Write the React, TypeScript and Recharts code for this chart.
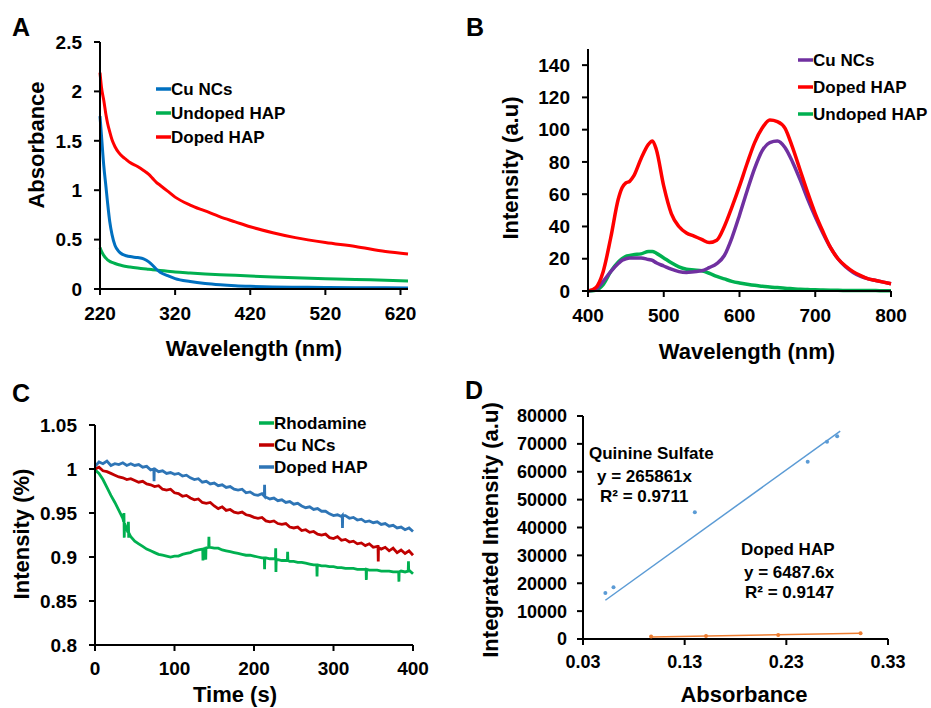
import React from 'react';
import { LineChart, Line, XAxis, YAxis, ComposedChart, Scatter } from 'recharts';

const FONT = "'Liberation Sans', Arial, Helvetica, sans-serif";

// ---------- Panel A: Absorbance ----------
const aWavelength = [220, 222, 225, 228, 230, 233, 236, 240, 245, 250, 255, 260, 270, 278, 285, 290, 295, 300, 310, 320, 340, 360, 380, 400, 420, 450, 480, 520, 560, 600, 630];
const aCuNCs = [1.75, 1.55, 1.25, 1.03, 0.88, 0.68, 0.55, 0.44, 0.38, 0.35, 0.337, 0.328, 0.318, 0.305, 0.275, 0.24, 0.2, 0.17, 0.135, 0.105, 0.075, 0.055, 0.042, 0.033, 0.027, 0.021, 0.018, 0.015, 0.013, 0.012, 0.011];
const aUndopedHAP = [0.42, 0.38, 0.34, 0.31, 0.295, 0.28, 0.27, 0.258, 0.245, 0.236, 0.228, 0.222, 0.212, 0.205, 0.2, 0.196, 0.192, 0.188, 0.18, 0.172, 0.162, 0.153, 0.145, 0.138, 0.131, 0.122, 0.114, 0.105, 0.097, 0.088, 0.082];
const aDopedHAP = [2.19, 2.04, 1.91, 1.76, 1.68, 1.59, 1.51, 1.44, 1.38, 1.34, 1.31, 1.28, 1.24, 1.2, 1.16, 1.12, 1.08, 1.05, 0.99, 0.93, 0.85, 0.79, 0.73, 0.68, 0.63, 0.57, 0.52, 0.47, 0.43, 0.38, 0.355];
const aXTicks = [220, 320, 420, 520, 620];
const aYTicks = [0, 0.5, 1, 1.5, 2, 2.5];

// ---------- Panel B: Emission ----------
const bWavelength = [400, 410, 420, 430, 440, 445, 450, 455, 460, 470, 480, 485, 490, 500, 510, 520, 530, 540, 550, 560, 570, 580, 590, 600, 610, 620, 630, 640, 650, 660, 670, 680, 690, 700, 710, 720, 730, 740, 750, 760, 770, 780, 790, 800];
const bCuNCs = [0, 1, 6, 12, 17, 19, 20, 20.5, 20.5, 20.5, 19.5, 19, 17.5, 15.5, 13.5, 12, 11.5, 12, 12.5, 14.5, 17, 22, 33, 47, 62, 76, 87, 92, 93, 89, 80, 69, 57, 46, 36, 27, 20, 15, 11.5, 9, 7.5, 6.5, 5.5, 4.5];
const bDopedHAP = [0, 2, 12, 33, 57, 64, 67, 68, 71, 82, 91, 93, 88, 65, 48, 40, 36, 34, 32, 30, 31.5, 40, 52, 65, 79, 92, 101, 106, 105, 101, 89, 75, 61, 48, 37, 27, 20, 15.5, 12, 9.5, 7.5, 6.5, 5.5, 4.5];
const bUndopedHAP = [0, 0.5, 4, 12, 18, 20, 21.5, 22, 22.5, 23, 24.5, 24.5, 23.5, 20.5, 17.5, 15, 13.5, 13, 12.5, 11, 9, 7.5, 6, 5, 4.2, 3.5, 3, 2.5, 2.1, 1.7, 1.4, 1.1, 0.9, 0.7, 0.6, 0.5, 0.4, 0.35, 0.3, 0.3, 0.25, 0.25, 0.2, 0.2];
const bXTicks = [400, 500, 600, 700, 800];
const bYTicks = [0, 20, 40, 60, 80, 100, 120, 140];

// ---------- Panel C: Photostability ----------
const cTime = [
  0, 5, 10, 15, 20, 25, 30, 35, 40, 45,
  50, 55, 60, 65, 70, 75, 80, 85, 90, 95,
  100, 105, 110, 115, 120, 125, 130, 135, 140, 145,
  150, 155, 160, 165, 170, 175, 180, 185, 190, 195,
  200, 205, 210, 215, 220, 225, 230, 235, 240, 245,
  250, 255, 260, 265, 270, 275, 280, 285, 290, 295,
  300, 305, 310, 315, 320, 325, 330, 335, 340, 345,
  350, 355, 360, 365, 370, 375, 380, 385, 390, 395,
  400,
];
const cRhodamine = [
  0.999, 0.995, 0.988, 0.979, 0.970, 0.962, 0.953, 0.944, 0.931, 0.923,
  0.918, 0.915, 0.912, 0.909, 0.907, 0.905, 0.903, 0.902, 0.901, 0.900,
  0.901, 0.901, 0.903, 0.904, 0.905, 0.907, 0.908, 0.909, 0.910, 0.911,
  0.910, 0.910, 0.908, 0.907, 0.906, 0.905, 0.904, 0.903, 0.902, 0.902,
  0.901, 0.900, 0.899, 0.899, 0.898, 0.898, 0.897, 0.896, 0.896, 0.895,
  0.895, 0.894, 0.894, 0.893, 0.892, 0.891, 0.891, 0.890, 0.890, 0.889,
  0.889, 0.888, 0.888, 0.887, 0.887, 0.887, 0.886, 0.886, 0.886, 0.885,
  0.885, 0.885, 0.884, 0.884, 0.884, 0.883, 0.883, 0.884, 0.883, 0.885,
  0.881,
];
const cCuNCs = [
  1.000, 1.002, 0.998, 0.997, 0.995, 0.993, 0.991, 0.990, 0.988, 0.989,
  0.987, 0.985, 0.986, 0.983, 0.982, 0.980, 0.981, 0.977, 0.976, 0.977,
  0.973, 0.972, 0.969, 0.970, 0.967, 0.965, 0.966, 0.962, 0.961, 0.962,
  0.958, 0.955, 0.957, 0.953, 0.954, 0.951, 0.950, 0.951, 0.948, 0.947,
  0.945, 0.944, 0.945, 0.941, 0.940, 0.941, 0.938, 0.937, 0.938, 0.934,
  0.933, 0.934, 0.930, 0.931, 0.928, 0.929, 0.926, 0.925, 0.926, 0.922,
  0.921, 0.923, 0.919, 0.920, 0.917, 0.918, 0.915, 0.916, 0.913, 0.915,
  0.911, 0.912, 0.909, 0.911, 0.907, 0.910, 0.905, 0.908, 0.904, 0.907,
  0.902,
];
const cDopedHAP = [
  1.003, 1.008, 1.006, 1.009, 1.004, 1.006, 1.005, 1.007, 1.004, 1.006,
  1.004, 1.005, 1.002, 1.003, 0.999, 1.000, 0.997, 0.998, 0.995, 0.996,
  0.994, 0.995, 0.992, 0.993, 0.990, 0.988, 0.989, 0.985, 0.986, 0.983,
  0.984, 0.981, 0.982, 0.979, 0.980, 0.977, 0.976, 0.977, 0.973, 0.974,
  0.971, 0.970, 0.972, 0.968, 0.966, 0.967, 0.964, 0.965, 0.962, 0.963,
  0.960, 0.961, 0.958, 0.956, 0.957, 0.954, 0.955, 0.952, 0.952, 0.949,
  0.947, 0.948, 0.946, 0.947, 0.944, 0.945, 0.942, 0.943, 0.940, 0.941,
  0.939, 0.940, 0.937, 0.938, 0.935, 0.936, 0.933, 0.934, 0.931, 0.933,
  0.929,
];
// measured spikes (time, value)
const cRhodSpikeT = [36, 36.4, 36.8, 37.2, 41.6, 42, 42.4, 42.8, 135.5, 135.8, 136.1, 139, 139.3, 139.6, 143, 143.3, 143.6, 213, 213.3, 213.6, 227, 227.3, 227.6, 227.9, 242, 242.3, 242.6, 279, 279.3, 279.6, 341, 341.3, 341.6, 382, 382.3, 382.6, 394, 394.3, 394.6];
const cRhodSpikeV = [0.940, 0.950, 0.922, 0.938, 0.928, 0.940, 0.922, 0.927, 0.909, 0.896, 0.909, 0.910, 0.897, 0.910, 0.911, 0.923, 0.911, 0.899, 0.886, 0.899, 0.898, 0.910, 0.883, 0.897, 0.896, 0.906, 0.896, 0.891, 0.878, 0.891, 0.886, 0.874, 0.886, 0.883, 0.872, 0.883, 0.884, 0.895, 0.884];
const cCuSpikeT = [356, 356.3, 356.6];
const cCuSpikeV = [0.912, 0.895, 0.911];
const cDopedSpikeT = [74, 74.3, 74.6, 213, 213.3, 213.6, 311, 311.3, 311.6];
const cDopedSpikeV = [1.0, 0.986, 1.0, 0.969, 0.982, 0.969, 0.947, 0.933, 0.947];
const cXTicks = [0, 100, 200, 300, 400];
const cYTicks = [0.8, 0.85, 0.9, 0.95, 1, 1.05];

// ---------- Panel D: Quantum yield ----------
const dQsAbs = [0.052, 0.06, 0.14, 0.251, 0.27, 0.28];
const dQsInt = [16500, 18600, 45500, 63600, 70800, 72700];
const dQsTrendAbs = [0.052, 0.283];
const dQsTrendInt = [13900, 74600];
const dHapAbs = [0.097, 0.151, 0.222, 0.303];
const dHapInt = [900, 1100, 1400, 2100];
const dHapTrendAbs = [0.097, 0.303];
const dHapTrendInt = [750, 2050];
const dXTicks = [0.03, 0.13, 0.23, 0.33];
const dYTicks = [0, 10000, 20000, 30000, 40000, 50000, 60000, 70000, 80000];

// ---------- tables ----------
const aData = aWavelength.map((w, i) => ({ w, cu: aCuNCs[i], un: aUndopedHAP[i], dp: aDopedHAP[i] }));
const bData = bWavelength.map((w, i) => ({ w, cu: bCuNCs[i], dp: bDopedHAP[i], un: bUndopedHAP[i] }));
const merge = (ts: number[], vs: number[], st: number[], sv: number[]) =>
  [...ts.map((t, i) => ({ t, v: vs[i] })), ...st.map((t, i) => ({ t, v: sv[i] }))].sort((a, b) => a.t - b.t);
const cRhodData = merge(cTime, cRhodamine, cRhodSpikeT, cRhodSpikeV);
const cCuData = merge(cTime, cCuNCs, cCuSpikeT, cCuSpikeV);
const cDopedData = merge(cTime, cDopedHAP, cDopedSpikeT, cDopedSpikeV);
const pairs = (xs: number[], ys: number[]) => xs.map((x, i) => ({ x, y: ys[i] }));
const dQs = pairs(dQsAbs, dQsInt);
const dQsTrend = pairs(dQsTrendAbs, dQsTrendInt);
const dHap = pairs(dHapAbs, dHapInt);
const dHapTrend = pairs(dHapTrendAbs, dHapTrendInt);

// ---------- styles ----------
const axisLine = { stroke: '#000', strokeWidth: 2 };
const tickLine = { stroke: '#000', strokeWidth: 2 };
const tickStyle = (size: number) => ({ fill: '#000', fontSize: size, fontWeight: 700, fontFamily: FONT });

const abs = (left: number, top: number): React.CSSProperties => ({ position: 'absolute', left, top });

function LegendRows({ x, y, gap, items }: { x: number; y: number; gap: number; items: { label: string; color: string }[] }) {
  return (
    <g>
      {items.map((it, i) => (
        <g key={it.label}>
          <line x1={x} x2={x + 15} y1={y + i * gap} y2={y + i * gap} stroke={it.color} strokeWidth={3.5} />
          <text x={x + 15} y={y + i * gap + 6} fontSize={17} fontWeight={700} fontFamily={FONT} fill="#000">{it.label}</text>
        </g>
      ))}
    </g>
  );
}

function T({ x, y, size, children, anchor = 'start', rotate = false }: any) {
  return (
    <text
      x={x}
      y={y}
      fontSize={size}
      fontWeight={700}
      fontFamily={FONT}
      fill="#000"
      textAnchor={anchor}
      transform={rotate ? `rotate(-90 ${x} ${y})` : undefined}
    >
      {children}
    </text>
  );
}

export default function App() {
  return (
    <div style={{ position: 'absolute', left: 0, top: 0, width: 931, height: 708, background: '#fff', overflow: 'hidden' }}>
      {/* Panel A */}
      <div style={abs(0, 0)}>
        <LineChart width={465} height={360} data={aData} margin={{ top: 42, right: 57, bottom: 31, left: 40 }}>
          <XAxis dataKey="w" type="number" domain={[220, 630]} ticks={aXTicks} interval={0} height={40}
            axisLine={axisLine} tickLine={tickLine} tickSize={6} tickMargin={12} tick={tickStyle(19)} />
          <YAxis type="number" domain={[0, 2.5]} ticks={aYTicks} interval={0} width={60}
            axisLine={axisLine} tickLine={tickLine} tickSize={6} tickMargin={12} tick={tickStyle(19)} />
          <Line dataKey="un" type="monotone" stroke="#00B050" strokeWidth={3} dot={false} isAnimationActive={false} />
          <Line dataKey="cu" type="monotone" stroke="#0070C0" strokeWidth={3} dot={false} isAnimationActive={false} />
          <Line dataKey="dp" type="monotone" stroke="#FF0000" strokeWidth={3} dot={false} isAnimationActive={false} />
        </LineChart>
      </div>

      {/* Panel B */}
      <div style={abs(465, 0)}>
        <LineChart width={466} height={360} data={bData} margin={{ top: 49, right: 40, bottom: 29, left: 63 }}>
          <XAxis dataKey="w" type="number" domain={[400, 800]} ticks={bXTicks} interval={0} height={40}
            axisLine={axisLine} tickLine={tickLine} tickSize={6} tickMargin={12} tick={tickStyle(19)} />
          <YAxis type="number" domain={[0, 150]} ticks={bYTicks} interval={0} width={60}
            axisLine={axisLine} tickLine={tickLine} tickSize={6} tickMargin={12} tick={tickStyle(19)} />
          <Line dataKey="un" type="monotone" stroke="#00B050" strokeWidth={3.5} dot={false} isAnimationActive={false} />
          <Line dataKey="cu" type="monotone" stroke="#7030A0" strokeWidth={3.5} dot={false} isAnimationActive={false} />
          <Line dataKey="dp" type="monotone" stroke="#FF0000" strokeWidth={3.5} dot={false} isAnimationActive={false} />
        </LineChart>
      </div>

      {/* Panel C */}
      <div style={abs(0, 360)}>
        <LineChart width={465} height={348} margin={{ top: 65, right: 52, bottom: 23, left: 35 }}>
          <XAxis dataKey="t" type="number" domain={[0, 400]} ticks={cXTicks} interval={0} height={40}
            axisLine={axisLine} tickLine={tickLine} tickSize={6} tickMargin={11} tick={tickStyle(19)} />
          <YAxis type="number" domain={[0.8, 1.05]} ticks={cYTicks} interval={0} width={60}
            axisLine={axisLine} tickLine={tickLine} tickSize={6} tickMargin={12} tick={tickStyle(19)} />
          <Line data={cRhodData} dataKey="v" type="linear" stroke="#00B050" strokeWidth={2.8} dot={false} isAnimationActive={false} />
          <Line data={cCuData} dataKey="v" type="linear" stroke="#C00000" strokeWidth={2.8} dot={false} isAnimationActive={false} />
          <Line data={cDopedData} dataKey="v" type="linear" stroke="#2E75B6" strokeWidth={2.8} dot={false} isAnimationActive={false} />
        </LineChart>
      </div>

      {/* Panel D */}
      <div style={abs(465, 360)}>
        <ComposedChart width={466} height={348} margin={{ top: 56, right: 43, bottom: 29, left: 48 }}>
          <XAxis dataKey="x" type="number" domain={[0.03, 0.33]} ticks={dXTicks} interval={0} height={40}
            tickFormatter={(v: number) => v.toFixed(2)}
            axisLine={axisLine} tickLine={tickLine} tickSize={6} tickMargin={10} tick={tickStyle(18)} />
          <YAxis dataKey="y" type="number" domain={[0, 80000]} ticks={dYTicks} interval={0} width={70}
            axisLine={axisLine} tickLine={tickLine} tickSize={6} tickMargin={10} tick={tickStyle(18)} />
          <Line data={dQsTrend} dataKey="y" type="linear" stroke="#5B9BD5" strokeWidth={1.5} dot={false} isAnimationActive={false} />
          <Line data={dHapTrend} dataKey="y" type="linear" stroke="#ED7D31" strokeWidth={1.5} dot={false} isAnimationActive={false} />
          <Scatter data={dQs} dataKey="y" fill="#5B9BD5" isAnimationActive={false}
            shape={(p: any) => <circle cx={p.cx} cy={p.cy} r={2} fill="#5B9BD5" />} />
          <Scatter data={dHap} dataKey="y" fill="#ED7D31" isAnimationActive={false}
            shape={(p: any) => <circle cx={p.cx} cy={p.cy} r={2} fill="#ED7D31" />} />
        </ComposedChart>
      </div>

      {/* Text overlay */}
      <svg width={931} height={708} style={{ position: 'absolute', left: 0, top: 0, pointerEvents: 'none' }}>
        {/* panel letters */}
        <T x={12} y={36} size={25}>A</T>
        <T x={466} y={36} size={25}>B</T>
        <T x={12} y={402} size={25}>C</T>
        <T x={465} y={399} size={25}>D</T>

        {/* axis titles */}
        <T x={254} y={356} size={22} anchor="middle">Wavelength (nm)</T>
        <T x={44} y={145} size={22} anchor="middle" rotate>Absorbance</T>
        <T x={747} y={359} size={22} anchor="middle">Wavelength (nm)</T>
        <T x={518} y={168} size={22} anchor="middle" rotate>Intensity (a.u)</T>
        <T x={235} y={702} size={22} anchor="middle">Time (s)</T>
        <T x={29} y={534} size={22} anchor="middle" rotate>Intensity (%)</T>
        <T x={744} y={702} size={22} anchor="middle">Absorbance</T>
        <T x={498} y={530} size={22} anchor="middle" rotate>Integrated Intensity (a.u)</T>

        {/* legends */}
        <LegendRows x={156} y={89} gap={24} items={[
          { label: 'Cu NCs', color: '#0070C0' },
          { label: 'Undoped HAP', color: '#00B050' },
          { label: 'Doped HAP', color: '#FF0000' },
        ]} />
        <LegendRows x={798} y={60} gap={27} items={[
          { label: 'Cu NCs', color: '#7030A0' },
          { label: 'Doped HAP', color: '#FF0000' },
          { label: 'Undoped HAP', color: '#00B050' },
        ]} />
        <LegendRows x={259} y={423} gap={22} items={[
          { label: 'Rhodamine', color: '#00B050' },
          { label: 'Cu NCs', color: '#C00000' },
          { label: 'Doped HAP', color: '#2E75B6' },
        ]} />

        {/* panel D annotations */}
        <T x={589} y={459} size={17}>Quinine Sulfate</T>
        <T x={597} y={482} size={17}>y = 265861x</T>
        <T x={600} y={502} size={17}>R² = 0.9711</T>
        <T x={741} y={555} size={17}>Doped HAP</T>
        <T x={744} y={578} size={17}>y = 6487.6x</T>
        <T x={745} y={598} size={17}>R² = 0.9147</T>
      </svg>
    </div>
  );
}
